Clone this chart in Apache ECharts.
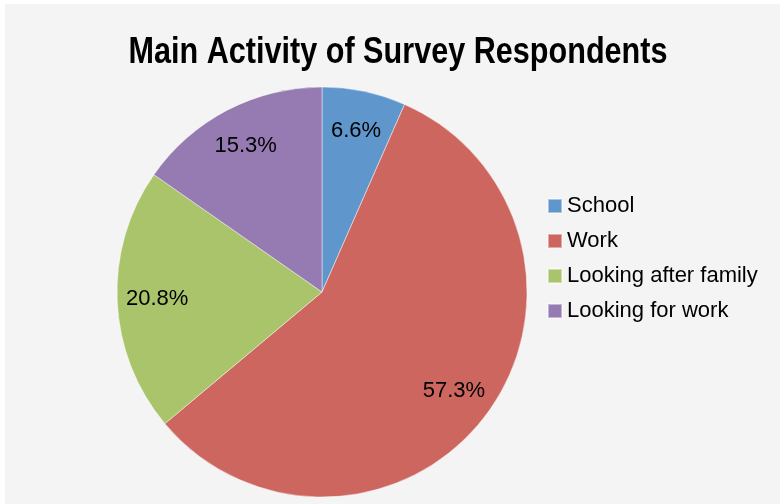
<!DOCTYPE html>
<html>
<head>
<meta charset="utf-8">
<script src="https://cdn.jsdelivr.net/npm/echarts@6/dist/echarts.min.js"></script>
<style>
  html, body { margin: 0; padding: 0; background: #ffffff; }
  #chart { width: 780px; height: 504px; }
</style>
</head>
<body>
<div id="chart"></div>
<script>
// Survey results: share of respondents by main activity (percent)
const categories = ['School', 'Work', 'Looking after family', 'Looking for work'];
const shares = [6.6, 57.3, 20.8, 15.3];
const sliceColors = ['#5f97cd', '#cd665f', '#aac46b', '#957bb1'];
const titleText = 'Main Activity of Survey Respondents';

const baseFont = '"Liberation Sans", Arial, sans-serif';

const pieData = categories.map((name, i) => ({
  name: name,
  value: shares[i],
  itemStyle: { color: sliceColors[i] }
}));

const chart = echarts.init(document.getElementById('chart'), null, { renderer: 'canvas' });

chart.setOption({
  backgroundColor: '#ffffff',
  animation: false,
  graphic: [
    {
      type: 'rect',
      z: -10,
      silent: true,
      shape: { x: 5, y: 4, width: 775, height: 500 },
      style: { fill: '#f4f4f4' }
    },
    {
      // condensed bold heading
      type: 'text',
      silent: true,
      x: 398,
      y: 35,
      scaleX: 0.85,
      style: {
        text: titleText,
        x: 0,
        y: 0,
        align: 'center',
        verticalAlign: 'top',
        font: 'bold 36px ' + baseFont,
        fill: '#000000'
      }
    }
  ],
  legend: {
    orient: 'vertical',
    left: 547,
    top: 195,
    padding: 0,
    itemWidth: 14,
    itemHeight: 14,
    itemGap: 13,
    icon: 'rect',
    data: categories,
    textStyle: {
      fontFamily: baseFont,
      fontSize: 22,
      color: '#000000'
    }
  },
  series: [
    {
      name: 'Main activity',
      type: 'pie',
      center: [322, 292],
      radius: 205,
      startAngle: 90,
      clockwise: true,
      silent: true,
      label: { show: false },
      labelLine: { show: false },
      itemStyle: { borderColor: 'rgba(255,255,255,0.45)', borderWidth: 1 },
      data: pieData
    },
    {
      // label ring: same slices, transparent, so the percentages sit at ~0.79 R
      name: 'Main activity labels',
      type: 'pie',
      center: [322, 292],
      radius: [119, 205],
      startAngle: 90,
      clockwise: true,
      silent: true,
      legendHoverLink: false,
      itemStyle: { color: 'rgba(0,0,0,0)' },
      label: {
        show: true,
        position: 'inside',
        formatter: (p) => p.value.toFixed(1) + '%',
        fontFamily: baseFont,
        fontSize: 22,
        color: '#000000'
      },
      labelLine: { show: false },
      data: categories.map((name, i) => ({ name: name, value: shares[i] }))
    }
  ]
});
</script>
</body>
</html>
